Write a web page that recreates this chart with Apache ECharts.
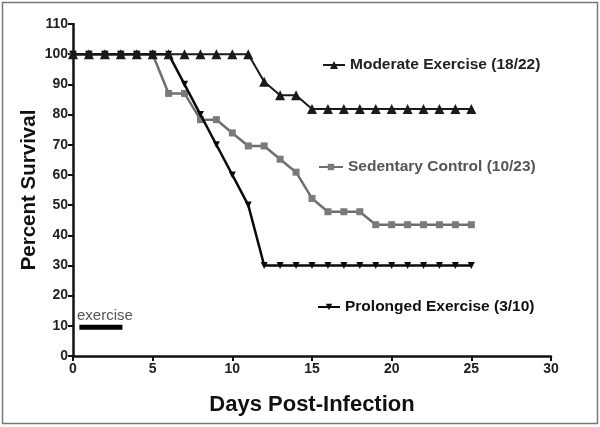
<!DOCTYPE html>
<html>
<head>
<meta charset="utf-8">
<script src="https://cdn.jsdelivr.net/npm/echarts@6/dist/echarts.min.js"></script>
<style>html,body{margin:0;padding:0;background:#fff;}#c{width:600px;height:427px;}</style>
</head>
<body>
<div id="c"></div>
<script>
var days = [0,1,2,3,4,5,6,7,8,9,10,11,12,13,14,15,16,17,18,19,20,21,22,23,24,25];
var moderate = [100,100,100,100,100,100,100,100,100,100,100,100,90.9,86.4,86.4,81.8,81.8,81.8,81.8,81.8,81.8,81.8,81.8,81.8,81.8,81.8];
var sedentary = [100,100,100,100,100,100,87.0,87.0,78.3,78.3,73.9,69.6,69.6,65.2,60.9,52.2,47.8,47.8,47.8,43.5,43.5,43.5,43.5,43.5,43.5,43.5];
var prolonged = [100,100,100,100,100,100,100,90,80,70,60,50,30,30,30,30,30,30,30,30,30,30,30,30,30,30];
var exerciseDays = [0.4, 3.1];
var exerciseLevel = 9.5;
var names = ['Moderate Exercise (18/22)', 'Sedentary Control (10/23)', 'Prolonged Exercise (3/10)'];

function pairs(ys){ return days.map(function(d,i){ return [d, ys[i]]; }); }

var FONT = '"Liberation Sans", Arial, sans-serif';
var chart = echarts.init(document.getElementById('c'), null, {renderer:'canvas'});
var legendText = function(color){ return {fontFamily: FONT, fontWeight:'bold', fontSize:15.5, color: color}; };
chart.setOption({
  animation:false,
  backgroundColor:'#fff',
  grid:{left:73, right:49, top:24, bottom:71},
  xAxis:{
    type:'value', min:0, max:30, interval:5,
    name:'Days Post-Infection', nameLocation:'middle', nameGap:38, nameMoveOverlap:false,
    nameTextStyle:{fontFamily:FONT, fontWeight:'bold', fontSize:22, color:'#111'},
    axisLine:{lineStyle:{color:'#111', width:2.5}},
    axisTick:{length:5, lineStyle:{color:'#111', width:2}},
    axisLabel:{fontFamily:FONT, fontWeight:'bold', fontSize:14, color:'#222', margin:6},
    splitLine:{show:false}
  },
  yAxis:{
    type:'value', min:0, max:110, interval:10,
    name:'Percent Survival', nameLocation:'middle', nameGap:33, nameMoveOverlap:false,
    nameTextStyle:{fontFamily:FONT, fontWeight:'bold', fontSize:20.5, color:'#111'},
    axisLine:{show:true, lineStyle:{color:'#111', width:2.5}},
    axisTick:{show:true, length:5, lineStyle:{color:'#111', width:2}},
    axisLabel:{fontFamily:FONT, fontWeight:'bold', fontSize:14, color:'#222', margin:5},
    splitLine:{show:false}
  },
  legend:[
    {data:[names[0]], left:322, top:57, itemWidth:22, itemHeight:10, padding:0, itemGap:0, textStyle:legendText('#222')},
    {data:[names[1]], left:318, top:159, itemWidth:24, itemHeight:8, padding:0, textStyle:legendText('#555')},
    {data:[names[2]], left:317, top:299, itemWidth:22, itemHeight:8, padding:0, textStyle:legendText('#111')}
  ],
  series:[
    {name:names[1], type:'line', data:pairs(sedentary), symbol:'rect', symbolSize:7,
      lineStyle:{color:'#6e6e6e', width:2.5}, itemStyle:{color:'#7a7a7a'}, z:2},
    {name:names[2], type:'line', data:pairs(prolonged), symbol:'triangle', symbolRotate:180, symbolSize:7,
      lineStyle:{color:'#0a0a0a', width:2.5}, itemStyle:{color:'#0a0a0a'}, z:3},
    {name:names[0], type:'line', data:pairs(moderate), symbol:'triangle', symbolSize:10,
      lineStyle:{color:'#1a1a1a', width:2}, itemStyle:{color:'#1a1a1a'}, z:4},
    {name:'exercise', type:'line', data:exerciseDays.map(function(d){return [d, exerciseLevel];}), symbol:'none', silent:true,
      lineStyle:{color:'#000', width:5}, z:5}
  ],
  graphic:[
    {type:'rect', shape:{x:2.5, y:2.5, width:595, height:421}, style:{fill:'none', stroke:'#777', lineWidth:1.5}, silent:true},
    {type:'text', left:77, top:308, style:{text:'exercise', fontFamily:FONT, fontSize:15, fill:'#555'}}
  ]
});
</script>
</body>
</html>
